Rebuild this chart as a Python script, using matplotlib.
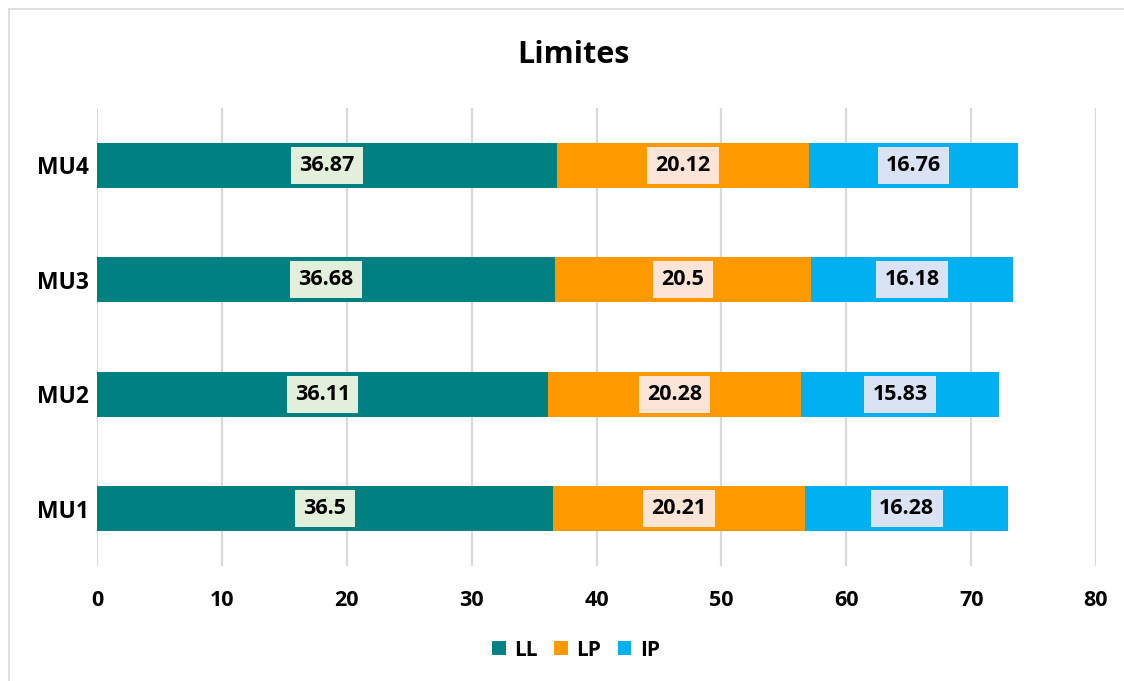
import numpy as np
import matplotlib.pyplot as plt
from matplotlib.lines import Line2D

categories = ['MU1', 'MU2', 'MU3', 'MU4']
ll = [36.5, 36.11, 36.68, 36.87]
lp = [20.21, 20.28, 20.5, 20.12]
ip = [16.28, 15.83, 16.18, 16.76]

series = [('LL', ll, '#008080', '#E2EFDA'),
          ('LP', lp, '#FF9900', '#FCE4D6'),
          ('IP', ip, '#00B0F0', '#DAE3F3')]

plt.rcParams['font.family'] = ['Open Sans', 'DejaVu Sans']
plt.rcParams['font.weight'] = 'bold'

W, H = 1124, 681
fig = plt.figure(figsize=(W / 100, H / 100), dpi=100)
ax = fig.add_axes([97 / W, (H - 566) / H, 999 / W, 458 / H])

y = np.arange(len(categories))
left = np.zeros(len(categories))
for name, vals, color, boxcol in series:
    vals = np.array(vals)
    ax.barh(y, vals, left=left, height=0.39, color=color, label=name, zorder=2)
    for yi, l, v in zip(y, left, vals):
        ax.text(l + v / 2, yi, f'{v:g}', ha='center', va='center',
                fontsize=15.5, fontweight='bold', color='black', zorder=3,
                bbox=dict(boxstyle='square,pad=0.38', fc=boxcol, ec='none'))
    left = left + vals

ax.set_xlim(0, 80)
ax.set_ylim(-0.5, 3.5)
ax.set_xticks(np.arange(0, 81, 10))
ax.set_yticks(y)
ax.set_yticklabels(categories, fontweight='bold')
ax.set_xticklabels([str(v) for v in range(0, 81, 10)], fontweight='bold')
ax.tick_params(length=0, labelsize=15.5, pad=8)
ax.tick_params(axis='y', labelsize=16.5, pad=6)
ax.tick_params(axis='x', pad=17)
ax.grid(axis='x', color='#D9D9D9', linewidth=1.6, zorder=0)
ax.set_axisbelow(True)
for s in ax.spines.values():
    s.set_visible(False)

fig.text(573 / W, 1 - 55 / H, 'Limites', ha='center', va='center',
         fontsize=22, fontweight='bold')

leg = fig.legend(loc='center', bbox_to_anchor=(576 / W, 1 - 650 / H), ncol=3,
                 frameon=False, prop={'size': 15, 'weight': 'bold'},
                 handlelength=0.65, handleheight=0.65,
                 handletextpad=0.4, columnspacing=0.8)

# outer chart frame (top and left edges)
fig.add_artist(Line2D([9 / W, 1], [1 - 9 / H, 1 - 9 / H], color='#D9D9D9', lw=1.2))
fig.add_artist(Line2D([9 / W, 9 / W], [0, 1 - 9 / H], color='#D9D9D9', lw=1.2))

fig.savefig('out.png', dpi=100)
